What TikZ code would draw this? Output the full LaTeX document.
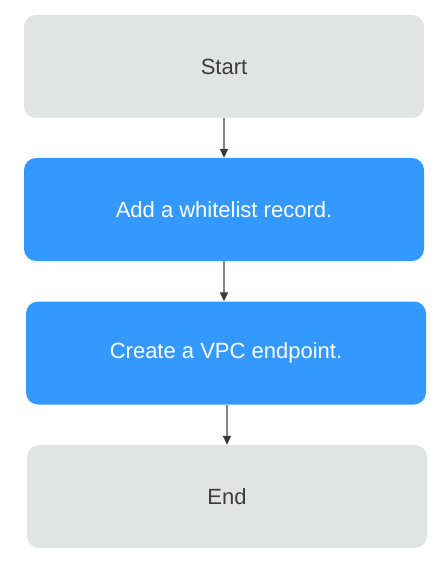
\documentclass[tikz,border=0pt]{standalone}
\usepackage{fontspec}
\setmainfont{Liberation Sans}
\usetikzlibrary{arrows.meta}
\definecolor{boxgray}{HTML}{E1E4E5}
\definecolor{boxblue}{HTML}{3399FF}
\definecolor{txtgray}{HTML}{3C3C3C}
\definecolor{linegray}{HTML}{858585}
\definecolor{headgray}{HTML}{3A3A3A}
\begin{document}
\begin{tikzpicture}[line cap=round,line join=round,x=1pt,y=-1pt,
    greybox/.style={rectangle,rounded corners=12pt,fill=boxgray,text=txtgray,
        minimum width=400pt,minimum height=103pt,inner sep=0pt,
        font=\fontsize{22}{26}\selectfont},
    bluebox/.style={greybox,fill=boxblue,text=white},
    flow/.style={-{Triangle[length=9pt,width=8pt,color=headgray]},line width=1.6pt,
        color=linegray,line cap=butt}]

    \useasboundingbox (0,0) rectangle (447,569);

    \node[greybox] (start) at (224,66.5) {Start};
    \node[bluebox] (add) at (224,209.5) {Add a whitelist record.};
    \node[bluebox] (vpc) at (226,353) {Create a VPC endpoint.};
    \node[greybox] (end) at (227,496.5) {End};

    \draw[flow] (start.south) -- (add.north);
    \draw[flow] (add.south) -- (add.south |- vpc.north);
    \draw[flow] (vpc.south -| end.north) -- (end.north);
\end{tikzpicture}
\end{document}
